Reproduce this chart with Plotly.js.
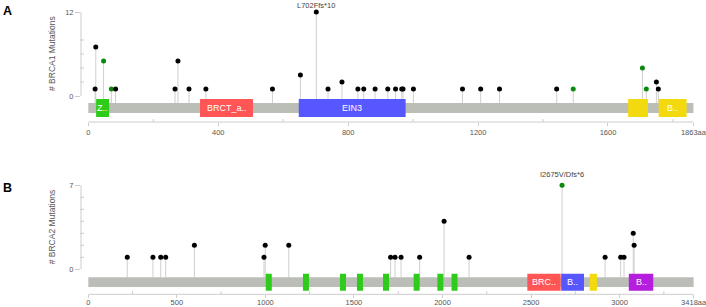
<!DOCTYPE html>
<html><head><meta charset="utf-8">
<script src="https://cdn.plot.ly/plotly-3.0.1.min.js"></script>
<style>html,body{margin:0;padding:0;background:#fff}#chart{width:706px;height:307px}</style>
</head><body><div id="chart"></div>
<script>
// ---------- DATA ----------
// BRCA1 (panel A)
const brca1Length = 1863;
const brca1Pos   = [21, 23, 47, 71, 84, 267, 276, 310, 362, 567, 653, 702, 738, 781, 830, 848, 883, 922, 946, 965, 969, 1001, 1152, 1208, 1266, 1442, 1493, 1706, 1718, 1749, 1755];
const brca1Count = [1, 7, 5, 1, 1, 1, 5, 1, 1, 1, 3, 12, 1, 2, 1, 1, 1, 1, 1, 1, 1, 1, 1, 1, 1, 1, 1, 4, 1, 2, 1];
const brca1Kind  = ['trunc','trunc','missense','missense','trunc','trunc','trunc','trunc','trunc','trunc','trunc','trunc','trunc','trunc','trunc','trunc','trunc','trunc','trunc','trunc','trunc','trunc','trunc','trunc','trunc','trunc','missense','missense','missense','trunc','trunc'];
const brca1DomStart = [24, 344, 648, 1662, 1756];
const brca1DomEnd   = [64, 507, 977, 1723, 1842];
const brca1DomName  = ['Z..', 'BRCT_a..', 'EIN3', '', 'B..'];
const brca1DomKind  = ['zf', 'brctassoc', 'ein3', 'brct', 'brct'];
const brca1TickVals = [0, 400, 800, 1200, 1600, 1863];
const brca1TickText = ['0', '400', '800', '1200', '1600', '1863aa'];
const brca1MinorTicks = [200, 600, 1000, 1400, 1800];
const brca1YTicks = [0, 12];
const brca1YMinor = [2, 4, 6, 8];
const brca1LabelPos = [702];
const brca1LabelText = ['L702Ffs*10'];
const brca1Title = '# BRCA1 Mutations';

// BRCA2 (panel B)
const brca2Length = 3418;
const brca2Pos   = [220, 365, 409, 437, 599, 992, 999, 1132, 1707, 1732, 1766, 1871, 2009, 2150, 2675, 2918, 3006, 3025, 3077, 3082];
const brca2Count = [1, 1, 1, 1, 2, 1, 2, 2, 1, 1, 1, 1, 4, 1, 7, 1, 1, 1, 3, 2];
const brca2Kind  = ['trunc','trunc','trunc','trunc','trunc','trunc','trunc','trunc','trunc','trunc','trunc','trunc','trunc','trunc','missense','trunc','trunc','trunc','trunc','trunc'];
const brca2DomStart = [1002, 1212, 1421, 1517, 1664, 1837, 1971, 2051, 2479, 2670, 2831, 3052];
const brca2DomEnd   = [1036, 1246, 1455, 1551, 1698, 1871, 2005, 2085, 2667, 2799, 2872, 3190];
const brca2DomName  = ['', '', '', '', '', '', '', '', 'BRC..', 'B..', '', 'B..'];
const brca2DomKind  = ['repeat','repeat','repeat','repeat','repeat','repeat','repeat','repeat','helical','ob1','tower','ob3'];
const brca2TickVals = [0, 500, 1000, 1500, 2000, 2500, 3000, 3418];
const brca2TickText = ['0', '500', '1000', '1500', '2000', '2500', '3000', '3418aa'];
const brca2MinorTicks = [250, 750, 1250, 1750, 2250, 2750, 3250];
const brca2YTicks = [0, 7];
const brca2YMinor = [1, 2, 3, 4, 5, 6];
const brca2LabelPos = [2675];
const brca2LabelText = ['I2675V/Dfs*6'];
const brca2Title = '# BRCA2 Mutations';

// ---------- STYLE ----------
const W = 706, H = 307;
const PX_L = 81, PX_R = 694;
const domColor = {zf:'#2ECC1A', brctassoc:'#FF5555', ein3:'#5757FF', brct:'#F2DA0E',
                  repeat:'#2ECC1A', helical:'#FF5555', ob1:'#5757FF', tower:'#F2DA0E', ob3:'#B41EDC'};
const kindColor = {trunc:'#000000', missense:'#0A8A0A'};
const axisGray = '#cccccc', textGray = '#555555', barGray = '#BBBEB7', stemGray = '#cfcfcf';
const FONT = 'Liberation Sans, Arial, sans-serif';

const panels = [
  {xa:'x', ya:'y', len:brca1Length, pos:brca1Pos, cnt:brca1Count, kind:brca1Kind,
   ds:brca1DomStart, de:brca1DomEnd, dn:brca1DomName, dk:brca1DomKind,
   tv:brca1TickVals, tt:brca1TickText, minor:brca1MinorTicks, yt:brca1YTicks, ym:brca1YMinor,
   lp:brca1LabelPos, lt:brca1LabelText, title:brca1Title, letter:'A',
   zeroPx:96, unitPx:7, topPx:2, botPx:122, aa0Px:88.3, scale:0.3248,
   barTopPx:103, barBotPx:113, domTopPx:99, domBotPx:117, letterPx:[7,11], labelShift:0, standoff:0},
  {xa:'x2', ya:'y2', len:brca2Length, pos:brca2Pos, cnt:brca2Count, kind:brca2Kind,
   ds:brca2DomStart, de:brca2DomEnd, dn:brca2DomName, dk:brca2DomKind,
   tv:brca2TickVals, tt:brca2TickText, minor:brca2MinorTicks, yt:brca2YTicks, ym:brca2YMinor,
   lp:brca2LabelPos, lt:brca2LabelText, title:brca2Title, letter:'B',
   zeroPx:269.3, unitPx:12, topPx:170, botPx:294.3, aa0Px:88.3, scale:0.1771,
   barTopPx:277.3, barBotPx:287, domTopPx:273.7, domBotPx:290.7, letterPx:[7,188], labelShift:4, standoff:-2}
];

const traces = [], shapes = [], annotations = [], layout = {};
panels.forEach((p, i) => {
  const v = (px) => (p.zeroPx - px) / p.unitPx;   // pixel row -> data y
  const yr = 1 - p.botPx / H, yt = 1 - p.topPx / H;
  const xRange = [(PX_L - p.aa0Px) / p.scale, (PX_R - p.aa0Px) / p.scale];
  const yRange = [v(p.botPx), v(p.topPx)];
  const sfx = i === 0 ? '' : '2';
  layout['xaxis' + sfx] = {domain:[PX_L / W, PX_R / W], range:xRange, anchor:p.ya,
    showgrid:false, zeroline:false, showline:false, ticks:'outside', ticklen:3, tickcolor:axisGray,
    ticklabeloverflow:'allow', ticklabelstandoff:p.standoff,
    tickmode:'array', tickvals:p.tv, ticktext:p.tt, tickfont:{size:7.5, color:textGray, family:FONT}, fixedrange:true};
  layout['yaxis' + sfx] = {domain:[yr, yt], range:yRange, anchor:p.xa,
    showgrid:false, zeroline:false, showline:false, ticks:'outside', ticklen:5, tickcolor:axisGray,
    tickmode:'array', tickvals:p.yt, ticktext:p.yt.map(String), tickfont:{size:7.5, color:textGray, family:FONT}, fixedrange:true};

  const base = v(p.barTopPx);
  // stems
  const sx = [], sy = [];
  p.pos.forEach((x, k) => { sx.push(x, x, null); sy.push(base, p.cnt[k], null); });
  traces.push({type:'scatter', mode:'lines', x:sx, y:sy, xaxis:p.xa, yaxis:p.ya,
    line:{color:stemGray, width:1}, hoverinfo:'skip', showlegend:false});
  // dots
  traces.push({type:'scatter', mode:'markers', x:p.pos, y:p.cnt, xaxis:p.xa, yaxis:p.ya,
    marker:{size:5, color:p.kind.map(k => kindColor[k])}, showlegend:false, cliponaxis:false});

  // protein bar
  shapes.push({type:'rect', xref:p.xa, yref:p.ya, x0:0, x1:p.len, y0:v(p.barBotPx), y1:v(p.barTopPx),
    fillcolor:barGray, line:{width:0}, layer:'below'});
  // domains
  p.ds.forEach((s, k) => {
    shapes.push({type:'rect', xref:p.xa, yref:p.ya, x0:s, x1:p.de[k], y0:v(p.domBotPx), y1:v(p.domTopPx),
      fillcolor:domColor[p.dk[k]], line:{width:0}, layer:'above'});
    if (p.dn[k]) annotations.push({xref:p.xa, yref:p.ya, x:(s + p.de[k]) / 2, y:(v(p.domBotPx) + v(p.domTopPx)) / 2,
      text:p.dn[k], showarrow:false, font:{size:9, color:'#ffffff', family:FONT}, xanchor:'center', yanchor:'middle'});
  });
  // x axis line + minor ticks
  shapes.push({type:'line', xref:p.xa, yref:'paper', x0:0, x1:p.len, y0:yr, y1:yr, line:{color:axisGray, width:1}});
  p.minor.forEach(m => shapes.push({type:'line', xref:p.xa, yref:'paper', x0:m, x1:m, y0:yr, y1:yr + 3 / H,
    line:{color:axisGray, width:1}}));
  // y axis line + minor ticks
  const ymax = p.yt[p.yt.length - 1];
  shapes.push({type:'line', xref:'paper', yref:p.ya, x0:PX_L / W, x1:PX_L / W, y0:0, y1:ymax, line:{color:axisGray, width:1}});
  p.ym.forEach(m => shapes.push({type:'line', xref:'paper', yref:p.ya, x0:(PX_L - 1) / W, x1:(PX_L + 3) / W, y0:m, y1:m,
    line:{color:axisGray, width:1}}));
  // mutation labels
  p.lp.forEach((x, k) => {
    const idx = p.pos.indexOf(x);
    annotations.push({xref:p.xa, yref:p.ya, x:x, y:p.cnt[idx], text:p.lt[k], showarrow:false,
      yanchor:'bottom', yshift:p.labelShift, font:{size:7.5, color:'#444444', family:FONT}});
  });
  // y title
  annotations.push({xref:'paper', yref:p.ya, x:52 / W, y:ymax / 2, text:p.title, textangle:-90, showarrow:false,
    xanchor:'center', yanchor:'middle', font:{size:8.5, color:textGray, family:FONT}});
  // panel letter
  annotations.push({xref:'paper', yref:'paper', x:p.letterPx[0] / W, y:1 - p.letterPx[1] / H, text:'<b>' + p.letter + '</b>',
    showarrow:false, xanchor:'center', yanchor:'middle', font:{size:12.5, color:'#000000', family:FONT}});
});

Object.assign(layout, {width:W, height:H, margin:{l:0, r:0, t:0, b:0}, paper_bgcolor:'#ffffff', plot_bgcolor:'#ffffff',
  showlegend:false, shapes:shapes, annotations:annotations, font:{family:FONT}});

Plotly.newPlot('chart', traces, layout, {displayModeBar:false, staticPlot:true});
</script>
</body></html>
